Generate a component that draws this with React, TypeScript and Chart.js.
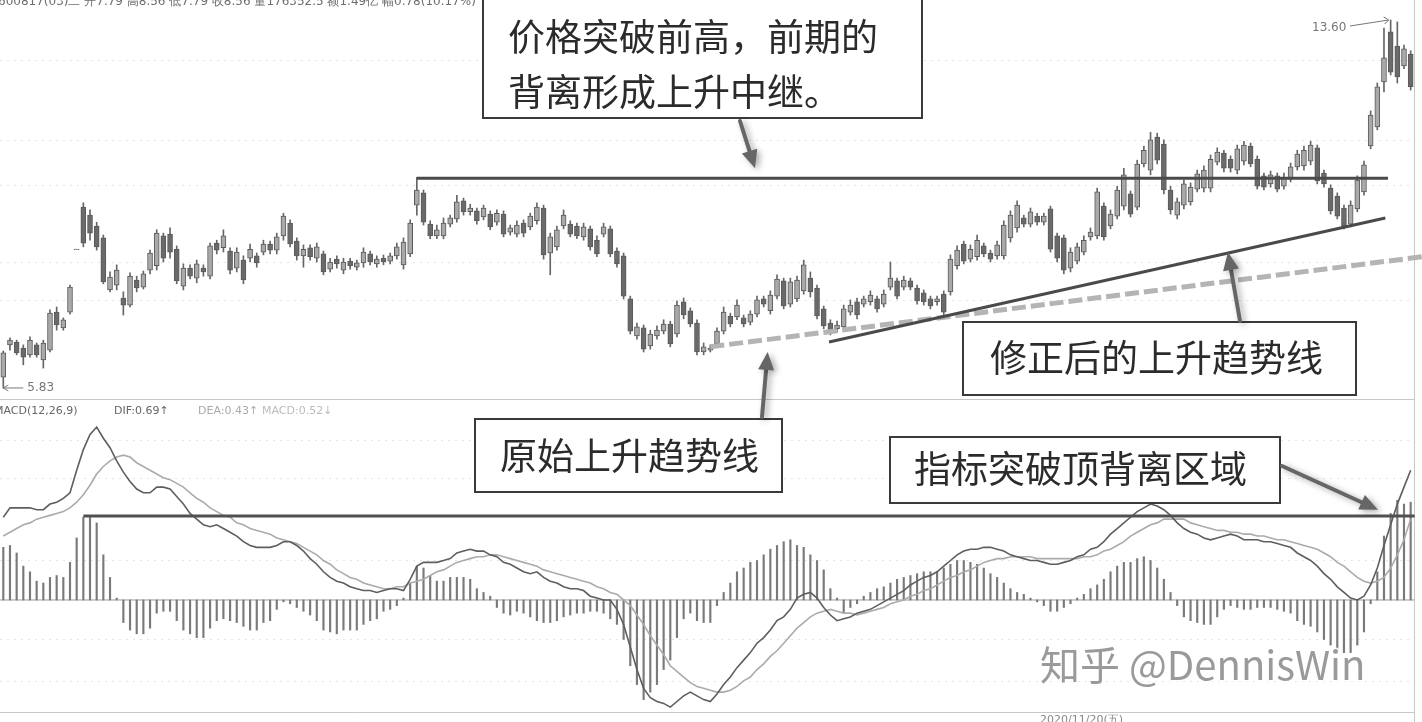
import React, { useEffect, useRef } from "react";
import { Chart, registerables } from "chart.js";
Chart.register(...registerables);

// ---- price candles (index 0..211) ----
const openP = [
  6.06, 6.74, 6.80, 6.67, 6.53, 6.74, 6.42, 6.63, 7.43, 7.10,
  7.43, 8.75, 9.65, 9.48, 9.25, 9.00, 7.90, 8.00, 7.73, 7.58,
  8.11, 7.96, 8.32, 8.41, 9.04, 9.08, 8.76, 7.98, 8.36, 8.15,
  8.36, 8.19, 8.89, 8.79, 8.72, 8.36, 8.53, 8.57, 8.62, 8.70,
  8.87, 8.74, 9.04, 9.31, 8.93, 8.62, 8.79, 8.57, 8.66, 8.34,
  8.55, 8.32, 8.51, 8.38, 8.47, 8.66, 8.45, 8.57, 8.51, 8.62,
  8.43, 8.66, 9.69, 9.95, 9.29, 9.04, 9.04, 9.29, 9.40, 9.78,
  9.55, 9.57, 9.44, 9.50, 9.33, 9.50, 9.12, 9.08, 9.31, 9.23,
  9.36, 9.63, 8.68, 8.81, 9.25, 9.29, 9.25, 9.02, 9.19, 8.95,
  9.08, 9.19, 8.72, 8.62, 7.71, 6.93, 7.10, 6.72, 6.93, 7.03,
  7.18, 6.97, 7.65, 7.46, 7.20, 6.59, 6.63, 6.76, 7.03, 7.35,
  7.33, 7.31, 7.22, 7.39, 7.71, 7.46, 7.77, 8.09, 7.60, 7.71,
  7.88, 8.15, 7.94, 7.50, 7.20, 7.08, 7.12, 7.43, 7.65, 7.60,
  7.65, 7.71, 7.60, 7.96, 8.09, 7.96, 8.09, 7.94, 7.84, 7.71,
  7.65, 7.81, 7.86, 8.41, 8.87, 8.55, 8.60, 8.83, 8.68, 8.62,
  8.62, 9.00, 9.21, 9.42, 9.29, 9.46, 9.33, 9.61, 9.04, 9.00,
  8.36, 8.51, 8.70, 9.02, 9.04, 9.67, 9.25, 9.46, 9.67, 9.93,
  9.65, 10.56, 10.43, 11.13, 10.98, 10.01, 9.48, 9.69, 9.76, 10.03,
  10.05, 10.05, 10.60, 10.79, 10.66, 10.43, 10.62, 10.94, 10.66, 10.31,
  10.14, 10.31, 10.09, 10.24, 10.50, 10.52, 10.62, 10.90, 10.37, 10.05,
  9.88, 9.63, 9.29, 9.61, 9.97, 10.94, 11.34, 12.29, 13.35, 13.05,
  12.63, 12.88,
];
const highP = [
  6.61, 6.89, 6.84, 6.74, 6.91, 6.78, 6.84, 7.48, 7.54, 7.31,
  8.00, 8.76, 9.74, 9.59, 9.33, 9.06, 8.28, 8.43, 7.86, 8.26,
  8.19, 8.30, 8.74, 9.17, 9.10, 9.21, 8.83, 8.45, 8.43, 8.53,
  8.43, 8.89, 8.95, 9.17, 8.79, 8.79, 8.62, 8.87, 8.68, 8.95,
  8.93, 9.10, 9.52, 9.38, 9.00, 8.85, 8.85, 8.89, 8.72, 8.57,
  8.62, 8.57, 8.57, 8.53, 8.79, 8.72, 8.62, 8.64, 8.68, 8.89,
  9.00, 9.38, 10.28, 10.01, 9.36, 9.27, 9.42, 9.48, 9.90, 9.84,
  9.71, 9.63, 9.69, 9.57, 9.59, 9.57, 9.27, 9.36, 9.38, 9.52,
  9.74, 9.69, 9.10, 9.25, 9.59, 9.36, 9.31, 9.31, 9.25, 9.04,
  9.31, 9.25, 8.79, 8.68, 7.77, 7.20, 7.16, 7.05, 7.14, 7.27,
  7.24, 7.67, 7.73, 7.52, 7.27, 6.78, 6.74, 7.10, 7.54, 7.41,
  7.69, 7.37, 7.46, 7.77, 7.77, 7.88, 8.22, 8.15, 8.15, 8.19,
  8.53, 8.28, 8.00, 7.56, 7.27, 7.24, 7.58, 7.69, 7.73, 7.77,
  7.88, 7.77, 7.90, 8.49, 8.15, 8.19, 8.15, 8.00, 7.90, 7.77,
  7.77, 7.88, 8.64, 8.83, 8.93, 8.85, 9.06, 8.89, 8.74, 8.93,
  9.36, 9.57, 9.78, 9.48, 9.63, 9.52, 9.52, 9.67, 9.10, 9.06,
  8.79, 8.89, 9.04, 9.21, 10.05, 9.74, 9.59, 10.09, 10.47, 9.99,
  10.64, 10.94, 11.23, 11.21, 11.07, 10.09, 9.84, 10.22, 10.16, 10.43,
  10.52, 10.75, 10.90, 10.85, 10.73, 10.96, 11.04, 11.00, 10.73, 10.37,
  10.41, 10.37, 10.37, 10.58, 10.85, 10.94, 11.04, 10.96, 10.43, 10.12,
  9.95, 9.69, 9.78, 10.31, 10.62, 11.68, 12.27, 13.43, 13.60, 13.56,
  13.07, 12.95,
];
const lowP = [
  5.83, 6.63, 6.53, 6.32, 6.48, 6.48, 6.25, 6.59, 7.05, 7.05,
  7.39, 8.75, 8.81, 8.95, 8.74, 8.03, 7.86, 7.90, 7.37, 7.54,
  7.86, 7.92, 8.24, 8.32, 8.49, 8.57, 8.03, 7.90, 8.13, 8.05,
  8.19, 8.13, 8.66, 8.70, 8.24, 8.28, 8.03, 8.49, 8.38, 8.64,
  8.66, 8.66, 8.95, 8.81, 8.53, 8.38, 8.53, 8.49, 8.22, 8.28,
  8.36, 8.24, 8.34, 8.32, 8.38, 8.43, 8.38, 8.43, 8.45, 8.55,
  8.34, 8.60, 9.48, 9.27, 8.98, 8.98, 8.98, 9.23, 9.33, 9.48,
  9.48, 9.29, 9.38, 9.17, 9.27, 9.02, 9.06, 9.02, 9.02, 9.17,
  9.29, 8.55, 8.22, 8.74, 9.19, 9.02, 8.98, 8.95, 8.74, 8.60,
  9.02, 8.60, 8.38, 7.71, 6.97, 6.86, 6.59, 6.65, 6.86, 6.97,
  6.70, 6.91, 7.29, 7.12, 6.53, 6.53, 6.59, 6.70, 6.97, 7.12,
  7.27, 7.12, 7.16, 7.33, 7.54, 7.39, 7.71, 7.50, 7.54, 7.65,
  7.81, 7.75, 7.29, 7.08, 6.95, 7.01, 7.05, 7.37, 7.29, 7.54,
  7.58, 7.43, 7.54, 7.90, 7.71, 7.90, 7.90, 7.60, 7.58, 7.50,
  7.58, 7.37, 7.79, 8.34, 8.45, 8.49, 8.53, 8.60, 8.49, 8.55,
  8.55, 8.91, 9.12, 9.23, 9.23, 9.27, 9.27, 8.70, 8.49, 8.24,
  8.28, 8.45, 8.64, 8.95, 8.98, 8.95, 9.19, 9.40, 9.59, 9.44,
  9.59, 10.50, 10.33, 10.56, 9.93, 9.50, 9.40, 9.61, 9.69, 9.97,
  9.97, 9.97, 10.54, 10.39, 10.39, 10.35, 10.54, 10.50, 10.03, 10.01,
  10.07, 9.97, 10.03, 10.18, 10.43, 10.43, 10.54, 10.14, 10.07, 9.50,
  9.40, 9.19, 9.23, 9.55, 9.90, 10.88, 11.28, 12.08, 12.44, 12.27,
  12.57, 12.12,
];
const closeP = [
  6.57, 6.84, 6.57, 6.48, 6.84, 6.53, 6.78, 7.41, 7.16, 7.27,
  7.96, 8.76, 8.89, 9.10, 8.81, 8.07, 8.17, 8.32, 7.58, 8.19,
  7.94, 8.24, 8.68, 9.10, 8.57, 8.70, 8.09, 8.36, 8.19, 8.45,
  8.28, 8.83, 8.74, 9.04, 8.32, 8.70, 8.11, 8.76, 8.47, 8.87,
  8.74, 9.02, 9.46, 8.87, 8.62, 8.76, 8.60, 8.81, 8.28, 8.49,
  8.45, 8.49, 8.41, 8.47, 8.70, 8.49, 8.55, 8.49, 8.62, 8.81,
  8.91, 9.31, 10.01, 9.33, 9.04, 9.17, 9.31, 9.42, 9.76, 9.55,
  9.63, 9.36, 9.63, 9.23, 9.52, 9.08, 9.21, 9.27, 9.10, 9.46,
  9.65, 8.64, 9.02, 9.17, 9.48, 9.08, 9.04, 9.23, 8.81, 8.66,
  9.23, 8.66, 8.45, 7.77, 7.03, 7.12, 6.65, 6.97, 7.05, 7.18,
  6.76, 7.58, 7.37, 7.18, 6.59, 6.70, 6.67, 7.03, 7.43, 7.18,
  7.58, 7.18, 7.39, 7.69, 7.60, 7.79, 8.13, 7.56, 8.07, 8.11,
  8.43, 7.86, 7.35, 7.14, 7.01, 7.16, 7.50, 7.58, 7.37, 7.71,
  7.79, 7.50, 7.81, 8.15, 7.77, 8.11, 7.96, 7.67, 7.65, 7.56,
  7.71, 7.43, 8.55, 8.74, 8.51, 8.76, 8.95, 8.66, 8.55, 8.85,
  9.27, 9.48, 9.69, 9.29, 9.55, 9.33, 9.46, 8.76, 8.57, 8.32,
  8.70, 8.81, 8.95, 9.12, 9.97, 9.02, 9.50, 10.01, 10.33, 9.50,
  10.56, 10.85, 11.07, 10.64, 10.01, 9.59, 9.76, 10.14, 10.07, 10.35,
  10.43, 10.66, 10.81, 10.47, 10.47, 10.88, 10.96, 10.56, 10.09, 10.07,
  10.33, 10.03, 10.28, 10.50, 10.77, 10.85, 10.96, 10.20, 10.14, 9.57,
  9.46, 9.25, 9.69, 10.22, 10.54, 11.59, 12.19, 12.80, 12.50, 12.40,
  12.99, 12.19,
];

// ---- MACD(12,26,9) ----
const difV = [
  0.44, 0.49, 0.49, 0.49, 0.49, 0.48, 0.48, 0.51, 0.52, 0.54,
  0.57, 0.69, 0.80, 0.88, 0.92, 0.86, 0.81, 0.74, 0.68, 0.63,
  0.59, 0.57, 0.57, 0.60, 0.60, 0.59, 0.55, 0.51, 0.46, 0.43,
  0.40, 0.39, 0.40, 0.38, 0.36, 0.34, 0.31, 0.29, 0.28, 0.28,
  0.28, 0.29, 0.31, 0.31, 0.29, 0.26, 0.22, 0.19, 0.15, 0.12,
  0.10, 0.09, 0.07, 0.06, 0.05, 0.05, 0.04, 0.05, 0.06, 0.06,
  0.05, 0.11, 0.18, 0.20, 0.20, 0.20, 0.21, 0.22, 0.25, 0.26,
  0.27, 0.26, 0.26, 0.24, 0.23, 0.20, 0.19, 0.17, 0.15, 0.14,
  0.15, 0.12, 0.10, 0.09, 0.07, 0.06, 0.06, 0.05, 0.02, 0.01,
  0.00, 0.00, -0.05, -0.13, -0.25, -0.37, -0.47, -0.52, -0.54, -0.55,
  -0.57, -0.54, -0.51, -0.49, -0.51, -0.53, -0.54, -0.50, -0.45, -0.41,
  -0.36, -0.32, -0.28, -0.23, -0.20, -0.16, -0.11, -0.09, -0.05, 0.01,
  0.03, 0.04, 0.01, -0.04, -0.08, -0.11, -0.10, -0.09, -0.07, -0.06,
  -0.05, -0.03, -0.01, 0.01, 0.03, 0.05, 0.08, 0.10, 0.12, 0.13,
  0.15, 0.18, 0.21, 0.24, 0.26, 0.27, 0.27, 0.28, 0.28, 0.27,
  0.26, 0.24, 0.23, 0.22, 0.21, 0.21, 0.20, 0.19, 0.19, 0.20,
  0.21, 0.23, 0.24, 0.27, 0.28, 0.31, 0.35, 0.38, 0.41, 0.44,
  0.47, 0.49, 0.51, 0.50, 0.48, 0.45, 0.41, 0.38, 0.36, 0.35,
  0.33, 0.32, 0.33, 0.34, 0.35, 0.34, 0.32, 0.32, 0.32, 0.31,
  0.31, 0.30, 0.29, 0.28, 0.25, 0.23, 0.21, 0.18, 0.14, 0.11,
  0.07, 0.04, 0.01, 0.00, 0.02, 0.08, 0.17, 0.29, 0.40, 0.51,
  0.60, 0.69,
];
const deaV = [
  0.34, 0.36, 0.38, 0.40, 0.41, 0.43, 0.44, 0.45, 0.46, 0.47,
  0.49, 0.52, 0.56, 0.61, 0.67, 0.71, 0.74, 0.76, 0.77, 0.76,
  0.73, 0.71, 0.69, 0.67, 0.65, 0.64, 0.62, 0.60, 0.57, 0.54,
  0.52, 0.49, 0.47, 0.45, 0.44, 0.41, 0.40, 0.38, 0.37, 0.36,
  0.35, 0.33, 0.32, 0.31, 0.30, 0.28, 0.26, 0.24, 0.21, 0.19,
  0.16, 0.14, 0.12, 0.11, 0.09, 0.08, 0.07, 0.06, 0.06, 0.07,
  0.07, 0.09, 0.10, 0.11, 0.13, 0.15, 0.16, 0.18, 0.20, 0.21,
  0.22, 0.23, 0.23, 0.24, 0.24, 0.23, 0.22, 0.21, 0.20, 0.19,
  0.18, 0.16, 0.15, 0.14, 0.13, 0.12, 0.11, 0.10, 0.09, 0.07,
  0.06, 0.04, 0.03, 0.00, -0.03, -0.08, -0.13, -0.19, -0.24, -0.29,
  -0.35, -0.38, -0.41, -0.44, -0.46, -0.47, -0.48, -0.49, -0.49, -0.48,
  -0.46, -0.43, -0.41, -0.37, -0.34, -0.30, -0.27, -0.23, -0.19, -0.15,
  -0.12, -0.09, -0.07, -0.06, -0.05, -0.06, -0.07, -0.07, -0.08, -0.07,
  -0.06, -0.05, -0.04, -0.02, -0.01, 0.00, 0.02, 0.03, 0.05, 0.06,
  0.08, 0.10, 0.12, 0.13, 0.15, 0.16, 0.18, 0.20, 0.21, 0.22,
  0.22, 0.23, 0.23, 0.23, 0.23, 0.22, 0.22, 0.22, 0.22, 0.22,
  0.22, 0.22, 0.23, 0.23, 0.24, 0.26, 0.27, 0.29, 0.31, 0.34,
  0.36, 0.38, 0.40, 0.41, 0.43, 0.43, 0.43, 0.43, 0.41, 0.40,
  0.39, 0.38, 0.37, 0.37, 0.36, 0.36, 0.35, 0.35, 0.34, 0.34,
  0.33, 0.32, 0.32, 0.31, 0.30, 0.29, 0.28, 0.27, 0.25, 0.23,
  0.20, 0.18, 0.15, 0.12, 0.10, 0.09, 0.10, 0.12, 0.17, 0.24,
  0.32, 0.43,
];
const macdV = [
  0.28, 0.29, 0.25, 0.18, 0.15, 0.10, 0.09, 0.12, 0.13, 0.12,
  0.20, 0.33, 0.44, 0.44, 0.41, 0.24, 0.12, 0.01, -0.12, -0.16,
  -0.18, -0.18, -0.15, -0.07, -0.06, -0.06, -0.11, -0.16, -0.18, -0.20,
  -0.20, -0.15, -0.11, -0.10, -0.11, -0.12, -0.14, -0.16, -0.16, -0.12,
  -0.11, -0.05, -0.01, -0.02, -0.04, -0.06, -0.08, -0.11, -0.16, -0.17,
  -0.18, -0.16, -0.16, -0.16, -0.13, -0.11, -0.10, -0.06, -0.05, -0.03,
  0.01, 0.09, 0.18, 0.17, 0.13, 0.10, 0.10, 0.12, 0.12, 0.12,
  0.11, 0.06, 0.04, 0.02, -0.04, -0.07, -0.08, -0.06, -0.07, -0.09,
  -0.11, -0.12, -0.12, -0.11, -0.09, -0.08, -0.07, -0.07, -0.06, -0.06,
  -0.07, -0.10, -0.13, -0.21, -0.35, -0.45, -0.53, -0.49, -0.45, -0.37,
  -0.32, -0.20, -0.10, -0.07, -0.11, -0.12, -0.12, -0.03, 0.04, 0.09,
  0.15, 0.17, 0.20, 0.21, 0.24, 0.27, 0.29, 0.31, 0.32, 0.29,
  0.28, 0.24, 0.21, 0.16, 0.06, 0.01, -0.07, -0.04, -0.02, 0.02,
  0.04, 0.06, 0.07, 0.09, 0.11, 0.12, 0.13, 0.14, 0.15, 0.15,
  0.15, 0.17, 0.19, 0.21, 0.21, 0.20, 0.19, 0.17, 0.14, 0.12,
  0.09, 0.06, 0.04, 0.03, 0.01, -0.01, -0.03, -0.06, -0.06, -0.04,
  -0.02, 0.01, 0.03, 0.06, 0.08, 0.11, 0.15, 0.18, 0.20, 0.20,
  0.22, 0.23, 0.21, 0.17, 0.11, 0.04, -0.03, -0.09, -0.11, -0.12,
  -0.13, -0.13, -0.09, -0.05, -0.03, -0.04, -0.05, -0.05, -0.04, -0.04,
  -0.04, -0.05, -0.06, -0.07, -0.11, -0.13, -0.14, -0.17, -0.21, -0.24,
  -0.27, -0.28, -0.28, -0.24, -0.17, -0.02, 0.15, 0.34, 0.46, 0.53,
  0.51, 0.52,
];

// ---- reference lines (index, value) ----
const resistanceLine = [[62, 10.26], [207.6, 10.26]];
const originalTrend = [[106, 6.70], [212.7, 8.60]];
const correctedTrend = [[123.8, 6.80], [207.2, 9.42]];
const macdPeakLine = [[12, 0.447], [211.6, 0.447]];
// faint software grid rows
const priceGridRows = [12.75, 11.07, 10.12, 8.49, 7.69];
const macdGridRows = [0.85, 0.65, 0.21, -0.21, -0.43];

// ---- texts ----
const headerText = "600817(03)二 开7.79 高8.56 低7.79 收8.56 量176352.5 额1.49亿 幅0.78(10.17%)";
const lowLabel = "5.83";
const highLabel = "13.60";
const note1 = ["价格突破前高，前期的", "背离形成上升中继。"];
const note2 = "原始上升趋势线";
const note3 = "修正后的上升趋势线";
const note4 = "指标突破顶背离区域";
const watermark = "知乎 @DennisWin";
const dateLabel = "2020/11/20(五)";

const W = 1422;
const H = 722;
const CJK = '"Noto Sans CJK SC", "Noto Sans", sans-serif';

function drawArrow(ctx: CanvasRenderingContext2D, x1: number, y1: number, x2: number, y2: number) {
  const ang = Math.atan2(y2 - y1, x2 - x1);
  const head = 18;
  const hw = 8;
  const bx = x2 - head * Math.cos(ang);
  const by = y2 - head * Math.sin(ang);
  ctx.save();
  ctx.shadowColor = "rgba(0,0,0,0.35)";
  ctx.shadowBlur = 6;
  ctx.shadowOffsetX = 3;
  ctx.shadowOffsetY = 2;
  ctx.strokeStyle = "#666";
  ctx.lineWidth = 4;
  ctx.lineCap = "round";
  ctx.beginPath();
  ctx.moveTo(x1, y1);
  ctx.lineTo(bx, by);
  ctx.stroke();
  ctx.fillStyle = "#666";
  ctx.beginPath();
  ctx.moveTo(x2, y2);
  ctx.lineTo(bx + hw * Math.sin(ang), by - hw * Math.cos(ang));
  ctx.lineTo(bx - hw * Math.sin(ang), by + hw * Math.cos(ang));
  ctx.closePath();
  ctx.fill();
  ctx.restore();
}

function drawBox(ctx: CanvasRenderingContext2D, l: number, t: number, r: number, b: number) {
  ctx.save();
  ctx.fillStyle = "#fff";
  ctx.fillRect(l, t, r - l, b - t);
  ctx.strokeStyle = "#3a3a3a";
  ctx.lineWidth = 2;
  ctx.strokeRect(l, t, r - l, b - t);
  ctx.restore();
}

const annotationPlugin = {
  id: "annotations",
  beforeDatasetsDraw(chart: any) {
    const { ctx } = chart;
    const y = chart.scales.y;
    const m = chart.scales.m;
    ctx.save();
    // faint dotted grid
    ctx.strokeStyle = "rgba(0,0,0,0.10)";
    ctx.lineWidth = 1;
    ctx.setLineDash([2, 5]);
    ctx.beginPath();
    for (const v of priceGridRows) {
      const py = Math.round(y.getPixelForValue(v)) + 0.5;
      ctx.moveTo(0, py);
      ctx.lineTo(1414, py);
    }
    for (const v of macdGridRows) {
      const py = Math.round(m.getPixelForValue(v)) + 0.5;
      ctx.moveTo(0, py);
      ctx.lineTo(1414, py);
    }
    ctx.stroke();
    ctx.setLineDash([]);
    // panel divider & right border
    ctx.strokeStyle = "#c8c8c8";
    ctx.beginPath();
    ctx.moveTo(0, 399.5);
    ctx.lineTo(1414, 399.5);
    ctx.moveTo(1414.5, 0);
    ctx.lineTo(1414.5, H);
    ctx.moveTo(0, 712.5);
    ctx.lineTo(1414, 712.5);
    ctx.stroke();
    // MACD zero line
    const z = m.getPixelForValue(0);
    ctx.strokeStyle = "#9a9a9a";
    ctx.beginPath();
    ctx.moveTo(0, z);
    ctx.lineTo(1414, z);
    ctx.stroke();
    ctx.restore();
  },
  afterDatasetsDraw(chart: any) {
    const { ctx } = chart;
    const x = chart.scales.x;
    const y = chart.scales.y;
    const m = chart.scales.m;
    const seg = (pts: number[][], sc: any, color: string, width: number, dash: number[]) => {
      ctx.save();
      ctx.strokeStyle = color;
      ctx.lineWidth = width;
      ctx.setLineDash(dash);
      ctx.beginPath();
      ctx.moveTo(x.getPixelForValue(pts[0][0]), sc.getPixelForValue(pts[0][1]));
      ctx.lineTo(x.getPixelForValue(pts[1][0]), sc.getPixelForValue(pts[1][1]));
      ctx.stroke();
      ctx.restore();
    };
    seg(originalTrend, y, "#b4b4b4", 5, [14, 5]);
    seg(resistanceLine, y, "#4a4a4a", 3, []);
    seg(correctedTrend, y, "#4a4a4a", 3, []);
    seg(macdPeakLine, m, "#505050", 3, []);
  },
  afterDraw(chart: any) {
    const { ctx } = chart;
    const x = chart.scales.x;
    const y = chart.scales.y;
    const m = chart.scales.m;
    ctx.save();
    // header (clipped at the top edge)
    ctx.fillStyle = "#6e6e6e";
    ctx.font = '12px "DejaVu Sans", sans-serif';
    ctx.textBaseline = "alphabetic";
    ctx.fillText(headerText, -2, 5);

    // low / high markers
    ctx.strokeStyle = "#777";
    ctx.fillStyle = "#777";
    ctx.lineWidth = 1;
    const lx = x.getPixelForValue(0);
    const ly = y.getPixelForValue(lowP[0]);
    ctx.beginPath();
    ctx.moveTo(lx, ly);
    ctx.lineTo(lx + 20, ly);
    ctx.moveTo(lx, ly);
    ctx.lineTo(lx + 5, ly - 3);
    ctx.moveTo(lx, ly);
    ctx.lineTo(lx + 5, ly + 3);
    ctx.stroke();
    ctx.font = '12px "DejaVu Sans", sans-serif';
    ctx.textBaseline = "middle";
    ctx.fillText(lowLabel, lx + 24, ly);
    const hx = x.getPixelForValue(208);
    const hy = y.getPixelForValue(13.6);
    ctx.fillText(highLabel, 1312, 28);
    ctx.beginPath();
    ctx.moveTo(1350, 26);
    ctx.lineTo(hx - 2, hy);
    ctx.lineTo(hx - 7, hy - 3);
    ctx.moveTo(hx - 2, hy);
    ctx.lineTo(hx - 6, hy + 4);
    ctx.stroke();

    // MACD legend
    ctx.font = '11px "DejaVu Sans", sans-serif';
    ctx.textBaseline = "middle";
    ctx.fillStyle = "#666";
    ctx.fillText("MACD(12,26,9)", -6, 411);
    ctx.fillText("DIF:0.69↑", 114, 411);
    ctx.fillStyle = "#aaa";
    ctx.fillText("DEA:0.43↑", 198, 411);
    ctx.fillStyle = "#bbb";
    ctx.fillText("MACD:0.52↓", 262, 411);

    // date label at the bottom
    ctx.fillStyle = "#888";
    ctx.textBaseline = "top";
    ctx.fillText(dateLabel, 1040, 715);

    // annotation boxes
    ctx.textBaseline = "middle";
    ctx.font = `37px ${CJK}`;

    drawBox(ctx, 483, -4, 922, 118);
    ctx.fillStyle = "#2b2b2b";
    ctx.fillText(note1[0], 508, 37);
    ctx.fillText(note1[1], 508, 92);

    drawBox(ctx, 475, 419, 782, 492);
    ctx.fillStyle = "#2b2b2b";
    ctx.fillText(note2, 500, 456);

    drawBox(ctx, 963, 322, 1356, 395);
    ctx.fillStyle = "#2b2b2b";
    ctx.fillText(note3, 990, 358);

    drawBox(ctx, 890, 437, 1280, 503);
    ctx.fillStyle = "#2b2b2b";
    ctx.fillText(note4, 914, 469);

    // arrows
    drawArrow(ctx, 740, 121, x.getPixelForValue(112.7), y.getPixelForValue(10.47));
    drawArrow(ctx, 762, 417, x.getPixelForValue(114.6), y.getPixelForValue(6.59));
    drawArrow(ctx, 1240, 321, x.getPixelForValue(183.6), y.getPixelForValue(8.7));
    drawArrow(ctx, 1282, 466, x.getPixelForValue(206.1), m.getPixelForValue(0.48));

    // watermark
    ctx.font = `40px ${CJK}`;
    ctx.textBaseline = "alphabetic";
    ctx.lineWidth = 3;
    ctx.strokeStyle = "rgba(255,255,255,0.9)";
    ctx.strokeText(watermark, 1040, 680);
    ctx.fillStyle = "rgba(120,120,120,0.75)";
    ctx.fillText(watermark, 1040, 680);
    ctx.restore();
  },
};

export default function App() {
  const ref = useRef<HTMLCanvasElement | null>(null);
  useEffect(() => {
    const canvas = ref.current;
    if (!canvas) return;
    const idx = openP.map((_, i) => i);
    const wicks = idx.map((i) => ({ x: i, y: [lowP[i], highP[i]] }));
    const bodies = idx.map((i) => ({ x: i, y: [openP[i], closeP[i]] }));
    const bodyColors = idx.map((i) => (closeP[i] >= openP[i] ? "#a9a9a9" : "#6a6a6a"));
    const hist = idx.map((i) => ({ x: i, y: macdV[i] }));
    const dif = idx.map((i) => ({ x: i, y: difV[i] }));
    const dea = idx.map((i) => ({ x: i, y: deaV[i] }));

    const chart = new Chart(canvas, {
      type: "bar",
      data: {
        datasets: [
          {
            type: "bar",
            data: wicks as any,
            yAxisID: "y",
            backgroundColor: "#666",
            barThickness: 1,
            grouped: false,
            order: 3,
          } as any,
          {
            type: "bar",
            data: bodies as any,
            yAxisID: "y",
            backgroundColor: bodyColors,
            borderColor: "#5a5a5a",
            borderWidth: 1,
            borderSkipped: false,
            barThickness: 5,
            grouped: false,
            order: 2,
          } as any,
          {
            type: "bar",
            data: hist as any,
            yAxisID: "m",
            backgroundColor: "#7a7a7a",
            barThickness: 1.5,
            grouped: false,
            order: 2,
          } as any,
          {
            type: "line",
            data: dif as any,
            yAxisID: "m",
            borderColor: "#5e5e5e",
            borderWidth: 1.6,
            pointRadius: 0,
            order: 1,
          } as any,
          {
            type: "line",
            data: dea as any,
            yAxisID: "m",
            borderColor: "#ababab",
            borderWidth: 1.6,
            pointRadius: 0,
            order: 1,
          } as any,
        ],
      },
      options: {
        responsive: false,
        animation: false,
        events: [],
        layout: { padding: 0 },
        plugins: { legend: { display: false }, tooltip: { enabled: false } },
        scales: {
          x: { type: "linear", min: -0.495, max: 212.7, display: false, offset: false },
          y: { type: "linear", min: -1.223, max: 14.022, display: false },
          m: { type: "linear", min: -0.649, max: 3.191, display: false },
        },
      },
      plugins: [annotationPlugin],
    } as any);
    return () => chart.destroy();
  }, []);

  return (
    <div style={{ position: "fixed", left: 0, top: 0, width: W, height: H, background: "#fff" }}>
      <canvas ref={ref} width={W} height={H} style={{ display: "block", width: W, height: H }} />
    </div>
  );
}
